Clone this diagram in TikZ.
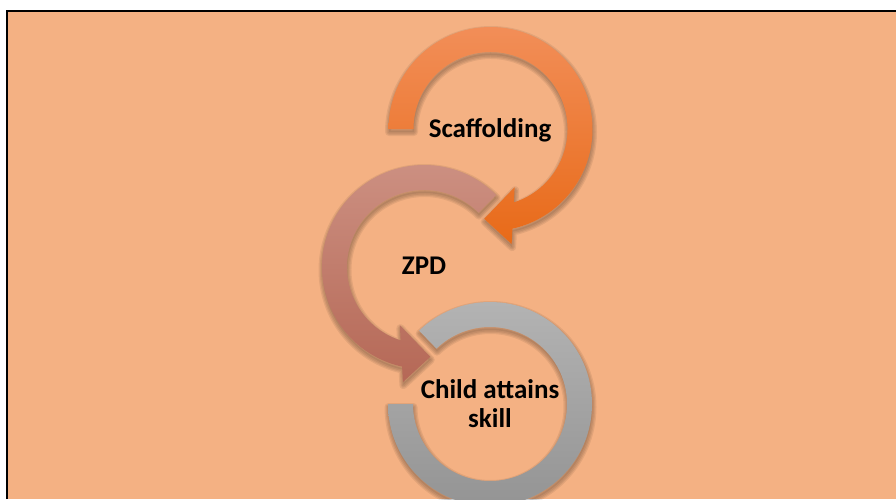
\documentclass[tikz,border=0pt]{standalone}
\usepackage{fontspec}
\setmainfont{Carlito}

\definecolor{paper}{HTML}{F4B183}
\definecolor{orangeTop}{HTML}{F28E58}
\definecolor{orangeBot}{HTML}{E86A18}
\definecolor{roseTop}{HTML}{CD9183}
\definecolor{roseBot}{HTML}{B56856}
\definecolor{greyTop}{HTML}{B3B3B3}
\definecolor{greyBot}{HTML}{949494}

% outlines of the three curved bands, relative to their centres
\newcommand\outlineA{(180:102pt) arc[start angle=180, end angle=-77.6, radius=102pt]
      -- (-79.6:117pt) -- (-94:90pt) -- (-67.5:63pt) -- (-72.3:77pt)
      arc[start angle=-72.3, end angle=180, radius=77pt] -- cycle}
\newcommand\outlineB{(45:102pt) arc[start angle=45, end angle=257.6, radius=102pt]
      -- (259.6:117pt) -- (274:90pt) -- (247.5:63pt) -- (252.3:77pt)
      arc[start angle=252.3, end angle=45, radius=77pt] -- cycle}
\newcommand\outlineC{(180:102pt) arc[start angle=180, end angle=494, radius=102pt]
      -- (494:77pt) arc[start angle=494, end angle=180, radius=77pt] -- cycle}

\tikzset{
  softshadow/.style={black, opacity=0.07, line join=round},
  bandA/.style={top color=orangeTop, bottom color=orangeBot},
  bandB/.style={top color=roseTop, bottom color=roseBot},
  bandC/.style={top color=greyTop, bottom color=greyBot},
  txt/.style={font=\bfseries\fontsize{27}{29}\selectfont, text=black,
              inner sep=0pt, align=center}
}

% soft drop shadow, then the shaded band on top
\newcommand\shadedband[2]{%
  \begin{scope}[shift={(0.5pt,-3pt)}]
    \fill[softshadow] #2;
    \foreach \w in {8,5.5,3} {\draw[softshadow, line width=\w pt] #2;}
  \end{scope}
  \path[#1] #2;}

\begin{document}
\begin{tikzpicture}[x=1pt, y=1pt]
  \useasboundingbox (0,0) rectangle (896,-499);
  \fill[white] (0,0) rectangle (896,-499);
  \fill[paper] (7,-10.5) rectangle (896,-499);
  \draw[line width=2pt] (7,-499) -- (7,-10.5) -- (896,-10.5);

  \coordinate (cA) at (490.5,-129);
  \coordinate (cB) at (424,-267);
  \coordinate (cC) at (490,-404);

  % first curved arrow: clockwise from the left, head pointing down-left
  \begin{scope}[shift={(cA)}]
    \shadedband{bandA}{\outlineA}
  \end{scope}

  % second curved arrow: counter-clockwise, head pointing right
  \begin{scope}[shift={(cB)}]
    \shadedband{bandB}{\outlineB}
  \end{scope}

  % last band, no head
  \begin{scope}[shift={(cC)}]
    \shadedband{bandC}{\outlineC}
  \end{scope}

  \node[txt, anchor=base] (scaffold) at (490,-137) {Scaffolding};
  \node[txt, anchor=base] (zpd) at (424,-274) {ZPD};
  \node[txt, anchor=center] (skill) at (490,-403.5) {Child attains\\skill};
\end{tikzpicture}
\end{document}
